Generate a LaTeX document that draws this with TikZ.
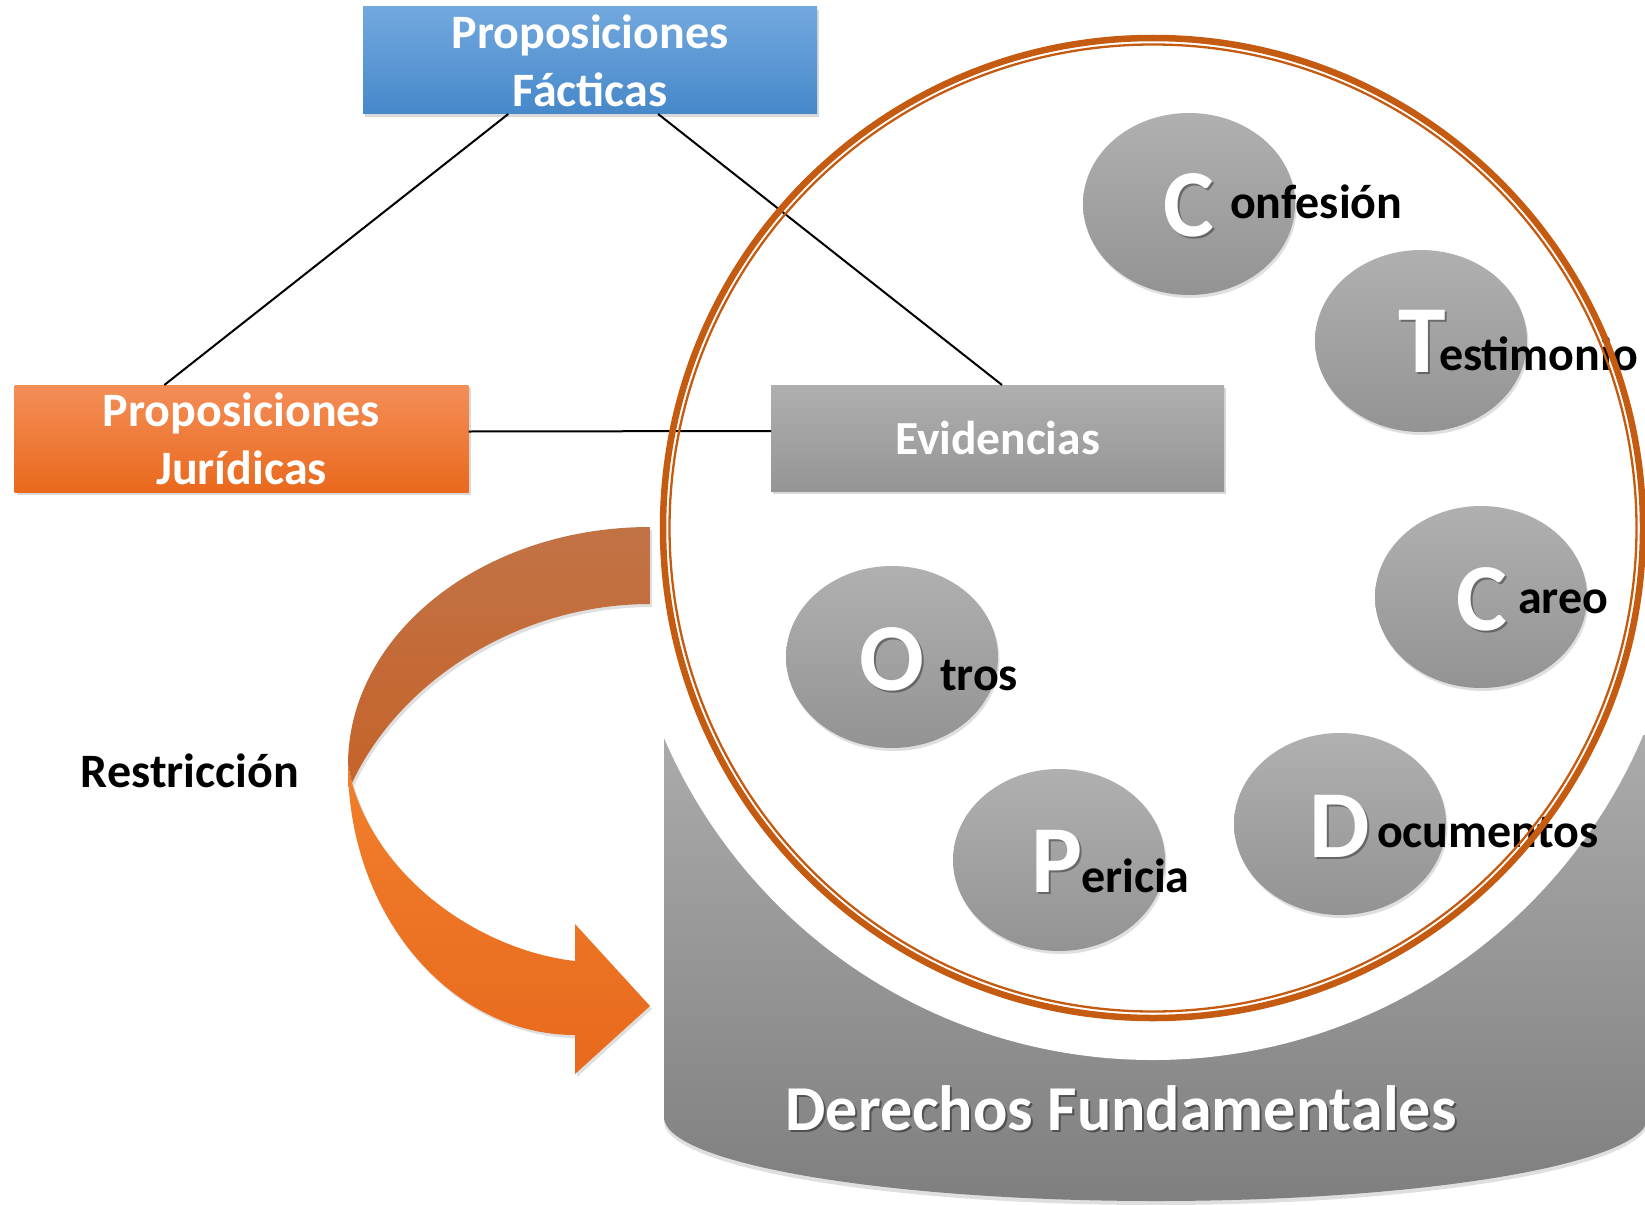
\documentclass[tikz,border=0pt]{standalone}
\usepackage{fontspec}
\setmainfont{Carlito}
\usetikzlibrary{shapes.geometric,shadows,calc}
\definecolor{bluetop}{HTML}{72A8DE}
\definecolor{bluebot}{HTML}{4688CA}
\definecolor{oratop}{HTML}{F48E58}
\definecolor{orabot}{HTML}{E9691C}
\definecolor{grytop}{HTML}{AFAFAF}
\definecolor{grybot}{HTML}{959595}
\definecolor{bubtop}{HTML}{B0B0B0}
\definecolor{bubbot}{HTML}{939393}
\definecolor{basetop}{HTML}{ABABAB}
\definecolor{basebot}{HTML}{7F7F7F}
\definecolor{ringcol}{HTML}{C55A11}
\definecolor{arrup1}{HTML}{C27346}
\definecolor{arrup2}{HTML}{C5632A}
\definecolor{arrlo1}{HTML}{F17F2C}
\definecolor{arrlo2}{HTML}{E8691D}
\begin{document}
\begin{tikzpicture}[x=1pt,y=-1pt,
  every node/.style={inner sep=0pt, outer sep=0pt},
  boxbase/.style={minimum height=107pt, minimum width=454pt, text=white, align=center,
    font=\fontsize{48}{58}\selectfont\bfseries,
    drop shadow={opacity=0.3, shadow xshift=2pt, shadow yshift=-3pt}},
  blubox/.style={boxbase, top color=bluetop, bottom color=bluebot},
  orabox/.style={boxbase, top color=oratop, bottom color=orabot},
  grybox/.style={boxbase, minimum height=106pt, minimum width=453pt, top color=grytop, bottom color=grybot,
    font=\fontsize{47.5}{56}\selectfont\bfseries},
  bubble/.style={ellipse, minimum width=212pt, minimum height=182pt, top color=bubtop, bottom color=bubbot,
    drop shadow={opacity=0.25, shadow xshift=1.5pt, shadow yshift=-3pt}},
  bigl/.style={anchor=base west, text=white, font=\fontsize{96}{100}\selectfont\bfseries},
  bigshadow/.style={bigl, text=black, opacity=0.35},
  smallt/.style={anchor=base west, text=black, font=\fontsize{48}{56}\selectfont\bfseries},
  link/.style={draw=black, line width=2pt},
]
\useasboundingbox (0,0) rectangle (1645,1204);

% base shape "Derechos Fundamentales"
\path[top color=basetop, bottom color=basebot,
      drop shadow={opacity=0.25, shadow xshift=0pt, shadow yshift=-4pt}]
  (664,735) -- (664,1117)
  .. controls (664,1163.4) and (886,1201) .. (1156,1201)
  .. controls (1426,1201) and (1648,1163.4) .. (1648,1117)
  -- (1648,735) -- cycle;
\fill[white] (1153,528) circle [radius=532];

% boxes
\node[blubox] (pf) at (590,60.5) {Proposiciones\\Fácticas};
\node[orabox] (pj) at (241.5,438.5) {Proposiciones\\Jurídicas};
\node[grybox] (ev) at (997.5,438) {Evidencias};

% bubbles
\node[bubble] (b1) at (1189,204) {};
\node[bubble] (b2) at (1421,341) {};
\node[bubble] (b3) at (1481,597) {};
\node[bubble] (b4) at (1340,824) {};
\node[bubble] (b5) at (1059,860) {};
\node[bubble] (b6) at (892,657) {};

% labels
\node[bigshadow] (l1s) at (1165,238) {C};
\node[bigl] (l1) at (1163,236) {C};
\node[smallt] (t1) at (1230,218) {onfesión};
\node[bigshadow] (l2s) at (1400,374) {T};
\node[bigl] (l2) at (1398,372) {T};
\node[smallt] (t2) at (1439,370) {estimonio};
\node[bigshadow] (l3s) at (1458,632) {C};
\node[bigl] (l3) at (1456,630) {C};
\node[smallt] (t3) at (1518,613) {areo};
\node[bigshadow] (l4s) at (1311,859) {D};
\node[bigl] (l4) at (1309,857) {D};
\node[smallt] (t4) at (1377,847) {ocumentos};
\node[bigshadow] (l5s) at (1033,894) {P};
\node[bigl] (l5) at (1031,892) {P};
\node[smallt] (t5) at (1081,892) {ericia};
\node[bigshadow] (l6s) at (861,692) {O};
\node[bigl] (l6) at (859,690) {O};
\node[smallt] (t6) at (940,690) {tros};

% connectors
\draw[link] ($(pf.south west)!0.32!(pf.south east)$) -- ($(pj.north west)!0.33!(pj.north east)$);
\draw[link] ($(pf.south west)!0.65!(pf.south east)$) -- ($(ev.north west)!0.51!(ev.north east)$);
\draw[link] ([yshift=7pt]pj.east) -- ([yshift=7pt]ev.west);

% big ring
\draw[ringcol, line width=6.5pt] (1153,528) circle [radius=490];
\draw[ringcol, line width=2.3pt] (1153,528) circle [radius=483.5];

% curved arrow
\path[top color=arrup1, bottom color=arrup2,
      drop shadow={opacity=0.25, shadow xshift=2pt, shadow yshift=-3pt}]
  (650,527) .. controls (483,527) and (348,634) .. (348,765)
  -- (352,783) .. controls (400,680) and (520,604) .. (650,604) -- cycle;
\path[top color=arrlo1, bottom color=arrlo2,
      drop shadow={opacity=0.25, shadow xshift=2pt, shadow yshift=-3pt}]
  (348,765) .. controls (348,914) and (450,1035) .. (575,1035)
  -- (575,1074) -- (650,1006) -- (575,924) -- (575,961)
  .. controls (480,950) and (380,880) .. (352,783) -- cycle;

% texts
\node[anchor=base, font=\fontsize{48}{56}\selectfont\bfseries] (restr) at (190,787) {Restricción};
\node[anchor=base, text=black, opacity=0.4, font=\fontsize{64}{76}\selectfont\bfseries] (dfs) at (1123,1132) {Derechos Fundamentales};
\node[anchor=base, text=white, font=\fontsize{64}{76}\selectfont\bfseries] (df) at (1121,1130) {Derechos Fundamentales};
\end{tikzpicture}
\end{document}
